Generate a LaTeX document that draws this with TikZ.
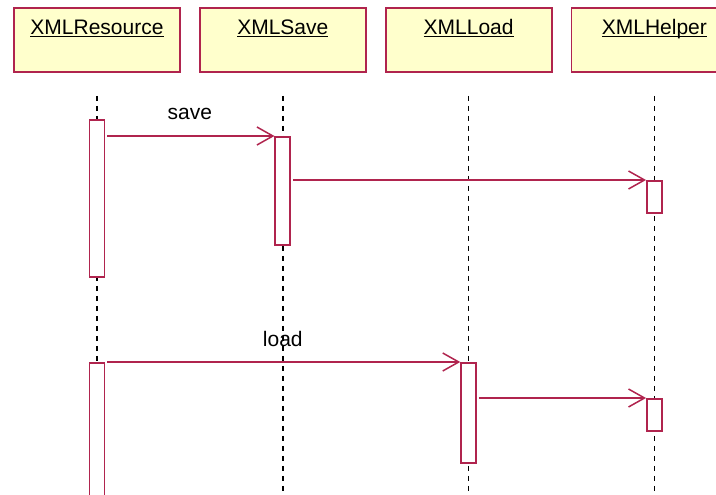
\documentclass[tikz,border=0pt]{standalone}
\usepackage{fontspec}
\setmainfont{Liberation Sans}
\usepackage{tikz}
\usetikzlibrary{positioning, arrows.meta}

\definecolor{umlred}{RGB}{176,36,78}
\definecolor{boxyellow}{RGB}{255,255,204}
\newcommand{\objname}[1]{\underline{\smash{#1}}}

\begin{document}
\begin{tikzpicture}[
    x=1pt, y=-1pt,
    node distance=18pt,
    object_box/.style={
        rectangle,
        draw=umlred,
        fill=boxyellow,
        line width=1.8pt,
        minimum width=166pt,
        inner sep=0pt,
        text height=27pt,
        text depth=37pt,
        font=\fontsize{21}{24}\selectfont
    },
    activation/.style={
        rectangle,
        draw=umlred,
        fill=white,
        line width=1.7pt,
        minimum width=15pt,
        inner sep=0pt,
        anchor=north
    },
    lifeline/.style = {draw=black, line width=1.7pt, dash pattern=on 5pt off 5pt},
    msg_arrow/.style = {draw=umlred, line width=1.5pt, shorten <=2pt, -{Straight Barb[length=16pt, width=18pt]}},
    msg_label/.style = {anchor=base, yshift=16pt, font=\fontsize{21}{24}\selectfont}
]
    \useasboundingbox (0,0) rectangle (716,495);
    \clip (0,0) rectangle (716,495);
    % objects
    \node [object_box] at (97,40) (resource) {\objname{XMLResource}};
    \node [object_box, right=of resource] (save) {\objname{XMLSave}};
    \node [object_box, right=of save] (load) {\objname{XMLLoad}};
    \node [object_box, right=of load] (helper) {\objname{XMLHelper}};
    % lifelines
    \draw [lifeline] (resource.south) ++(0,23) -- (resource.south |- 0,495);
    \draw [lifeline] (save.south) ++(0,23) -- (save.south |- 0,495);
    \draw [lifeline] (load.south) ++(0,23) -- (load.south |- 0,495);
    \draw [lifeline] (helper.south) ++(0,23) -- (helper.south |- 0,495);
    % activations
    \node [activation, minimum height=157pt] (res_act1) at (resource.south |- 0,119) {};
    \node [activation, minimum height=108pt] (save_act) at (save.south |- 0,136) {};
    \node [activation, minimum height=32pt] (helper_act1) at (helper.south |- 0,180) {};
    \node [activation, minimum height=140pt] (res_act2) at (resource.south |- 0,362) {};
    \node [activation, minimum height=100pt] (load_act) at (load.south |- 0,362) {};
    \node [activation, minimum height=32pt] (helper_act2) at (helper.south |- 0,398) {};
    % messages
    \draw [msg_arrow] (res_act1.east |- save_act.north west) -- node [msg_label, midway] (lbl_save) {save} (save_act.north west);
    \draw [msg_arrow] (save_act.east |- helper_act1.north west) -- (helper_act1.north west);
    \draw [msg_arrow] (res_act2.east |- load_act.north west) -- node [msg_label, midway] (lbl_load) {load} (load_act.north west);
    \draw [msg_arrow] (load_act.east |- helper_act2.north west) -- (helper_act2.north west);
\end{tikzpicture}
\end{document}
